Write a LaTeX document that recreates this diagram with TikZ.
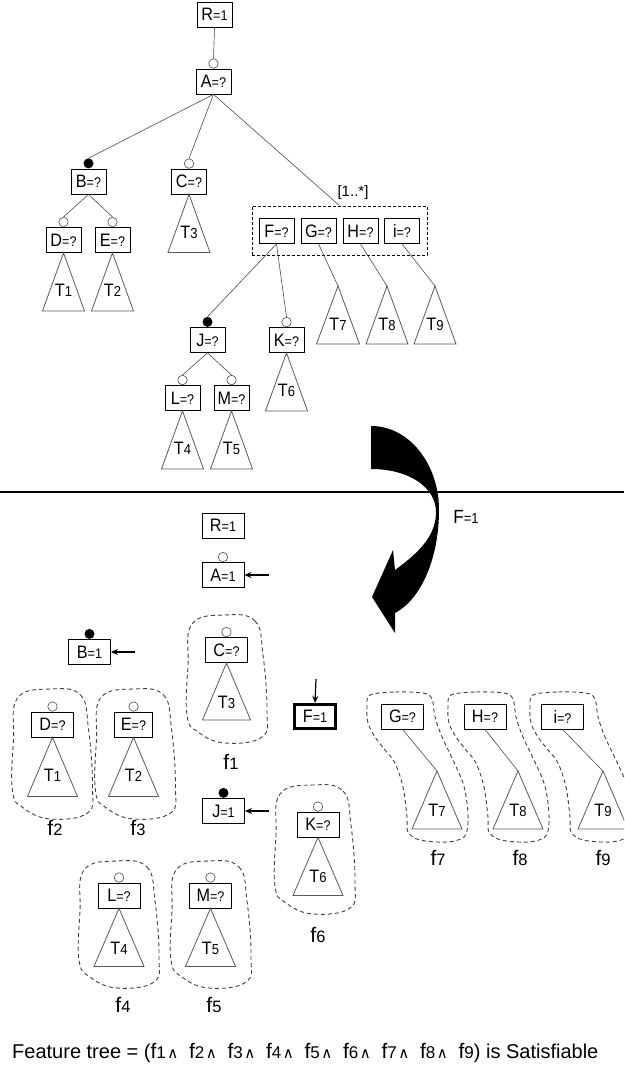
\documentclass[tikz,border=0pt]{standalone}
\usepackage{fontspec}
\setmainfont{Liberation Sans}
\newfontfamily\nfont{Liberation Sans}[FakeStretch=0.9]
\newfontfamily\symfont{DejaVu Sans}
\usetikzlibrary{arrows.meta}

% feature label inside a box: big letter, smaller "=value"
\newcommand{\boxtxt}[2]{{\nfont\fontsize{18}{18}\selectfont #1\fontsize{14}{14}\selectfont #2}}
% subtree label T<n>
\newcommand{\trilab}[1]{{\nfont\fontsize{18}{18}\selectfont T\fontsize{14.5}{14.5}\selectfont #1}}
% formula label f<n>
\newcommand{\flab}[1]{{\fontsize{21}{21}\selectfont f\fontsize{16.5}{16.5}\selectfont #1}}
\newcommand{\fsub}[1]{{\fontsize{21}{21}\selectfont f\fontsize{17}{17}\selectfont #1}}
\newcommand{\andsym}{{\symfont\fontsize{15}{15}\selectfont ∧}}
% one conjunct followed by its "and" sign, on a fixed pitch
\newcommand{\fand}[1]{\makebox[38.5pt][l]{\fsub{#1}\hspace{1.5pt}\andsym}}

% subtree triangle hanging from an apex, with its label
\newcommand{\subtree}[5]{%
  \draw[tri] (#1) -- ++(-#2,#3) -- ++(#2*2,0) -- cycle;
  \node[lab] at ([yshift=-#4pt]#1) {\trilab{#5}};}

% dashed outline around a box and its subtree (centre x, top y, bottom y)
\newcommand{\blob}[3]{%
  \draw[blobline] plot[smooth cycle, tension=0.7] coordinates {
    (#1-2,#2) (#1+28,#2+6) (#1+36,#2+40) (#1+40,#3-32) (#1+35,#3-6)
    (#1-2,#3) (#1-29,#3-11) (#1-40,#3-28) (#1-39,#2+50) (#1-35,#2+9)};}

% dashed outline around a group box with its offset subtree
\newcommand{\sblob}[1]{%
  \begin{scope}[xshift=#1pt]
  \draw[blobline] plot[smooth cycle, tension=0.55] coordinates {
    (370,695) (395,692) (423,693) (432,699) (435,717) (442,737) (453,760)
    (463,783) (467,803) (468,823) (464,837) (447,842) (420,840) (408,832)
    (407,817) (403,787) (395,763) (385,750) (375,737) (368,723) (367,707)};
  \end{scope}}

\begin{document}
\begin{tikzpicture}[x=1pt,y=-1pt,
  bx/.style={draw=black, line width=0.8pt, fill=white, minimum width=35pt,
    minimum height=25pt, inner sep=1pt},
  wbx/.style={bx, minimum width=42pt},
  oc/.style={circle, draw=black!70, line width=0.6pt, fill=white,
    minimum size=9.5pt, inner sep=0pt, anchor=south},
  fc/.style={circle, fill=black, minimum size=10pt, inner sep=0pt, anchor=south},
  link/.style={draw=black!70, line width=0.6pt},
  tri/.style={draw=black!65, line width=0.8pt},
  lab/.style={inner sep=0pt},
  blobline/.style={draw=black!75, line width=0.9pt, dash pattern=on 4pt off 3pt},
  ptr/.style={-{Stealth[length=7pt,width=6pt]}, line width=1.2pt},
]
\useasboundingbox (0,0) rectangle (624,1068);
\clip (0,0) rectangle (624,1068);

%% ---------------- upper tree ----------------
\node[bx] (R) at (214.5,14.5) {\boxtxt{R}{=1}};
\node[bx] (A) at (213.5,81.5) {\boxtxt{A}{=?}};
\node[oc] (Ac) at (A.north) {};
\draw[link] (R.south) -- (Ac.north);

\node[bx] (B) at (88.5,181.5) {\boxtxt{B}{=?}};
\node[fc] (Bc) at (B.north) {};
\node[bx] (C) at (189,181.5) {\boxtxt{C}{=?}};
\node[oc] (Cc) at (C.north) {};

\node[draw=black, line width=0.8pt, dash pattern=on 3pt off 2pt,
  minimum width=175pt, minimum height=49pt] (grp) at (339.5,230.5) {};
\node[lab] (card) at (353,193) {\fontsize{15}{15}\selectfont [1..*]};

\draw[link] (A.south) -- (Bc.north);
\draw[link] (A.south) -- (Cc.north);
\draw[link] (A.south) -- (grp.north);

\node[bx] (F) at (276.5,231) {\boxtxt{F}{=?}};
\node[bx] (G) at (318.5,231) {\boxtxt{G}{=?}};
\node[bx] (H) at (360.5,231) {\boxtxt{H}{=?}};
\node[bx] (I) at (402,231) {\boxtxt{i}{=?}};

\node[bx] (D) at (63.5,240) {\boxtxt{D}{=?}};
\node[oc] (Dc) at (D.north) {};
\node[bx] (E) at (112.5,240) {\boxtxt{E}{=?}};
\node[oc] (Ec) at (E.north) {};
\draw[link] (B.south) -- (Dc.north);
\draw[link] (B.south) -- (Ec.north);

\node[bx] (J) at (207.5,340) {\boxtxt{J}{=?}};
\node[fc] (Jc) at (J.north) {};
\node[bx] (K) at (286.5,340) {\boxtxt{K}{=?}};
\node[oc] (Kc) at (K.north) {};
\draw[link] (F.south) -- (Jc.north);
\draw[link] (F.south) -- (Kc.north);

\node[bx] (L) at (182.5,398) {\boxtxt{L}{=?}};
\node[oc] (Lc) at (L.north) {};
\node[bx] (M) at (231.5,398) {\boxtxt{M}{=?}};
\node[oc] (Mc) at (M.north) {};
\draw[link] (J.south) -- (Lc.north);
\draw[link] (J.south) -- (Mc.north);

\coordinate (t7) at (338,286);
\coordinate (t8) at (387,286);
\coordinate (t9) at (435,286);
\draw[link] (G.south) -- (t7);
\draw[link] (H.south) -- (t8);
\draw[link] (I.south) -- (t9);

\subtree{D.south}{21}{58}{37}{1}
\subtree{E.south}{21}{58}{37}{2}
\subtree{C.south}{21}{58}{38}{3}
\subtree{L.south}{21}{58}{37}{4}
\subtree{M.south}{21}{58}{37}{5}
\subtree{K.south}{21}{58}{37}{6}
\subtree{t7}{21.5}{58}{38}{7}
\subtree{t8}{21}{58}{38}{8}
\subtree{t9}{21}{58}{38}{9}

%% ---------------- divider and transition arrow ----------------
\coordinate (divl) at (0,492);
\coordinate (divr) at (624,492);
\draw[line width=1.3pt] (divl) -- (divr);

\fill[black] (371,426) .. controls (410,426) and (439,465) .. (439,510)
  .. controls (439,560) and (420,600) .. (395,613)
  -- (395,633) -- (372,597) -- (393,550) -- (395,570)
  .. controls (420,552) and (436,535) .. (436,512)
  .. controls (436,488) and (410,469) .. (371,469) -- cycle;
\node[lab] (fset) at (466,517) {{\nfont\fontsize{19}{19}\selectfont F\fontsize{14.5}{14.5}\selectfont =1}};

%% ---------------- lower part: decomposition ----------------
\blob{227}{615}{743}
\blob{52.5}{689}{819}
\blob{135.5}{689}{819}
\blob{315}{785}{914}
\blob{119}{861}{988}
\blob{211}{861}{988}
\sblob{0}
\sblob{81}
\sblob{163}

\node[wbx] (R2) at (223,525.5) {\boxtxt{R}{=1}};
\node[wbx] (A2) at (223,575) {\boxtxt{A}{=1}};
\node[oc] (A2c) at (A2.north) {};
\coordinate (pA) at (269,575);
\draw[ptr] (pA) -- (A2.east);

\node[wbx] (B2) at (89.5,652) {\boxtxt{B}{=1}};
\node[fc] (B2c) at (B2.north) {};
\coordinate (pB) at (135,652);
\draw[ptr] (pB) -- (B2.east);

\node[wbx] (C2) at (226.5,650) {\boxtxt{C}{=?}};
\node[oc] (C2c) at (C2.north) {};

\node[bx, line width=2.6pt, minimum width=41.5pt, minimum height=24.5pt]
  (F2) at (315,716.5) {\boxtxt{F}{=1}};
\coordinate (pF) at (316,679);
\draw[ptr] (pF) -- (F2.north);

\node[wbx] (J2) at (223.5,811) {\boxtxt{J}{=1}};
\node[fc] (J2c) at (J2.north) {};
\coordinate (pJ) at (269,811);
\draw[ptr] (pJ) -- (J2.east);

\node[wbx] (D2) at (52.5,724.5) {\boxtxt{D}{=?}};
\node[oc] (D2c) at (D2.north) {};
\node[wbx, minimum width=38pt] (E2) at (133.5,724.5) {\boxtxt{E}{=?}};
\node[oc] (E2c) at (E2.north) {};
\node[wbx] (K2) at (318,824.5) {\boxtxt{K}{=?}};
\node[oc] (K2c) at (K2.north) {};
\node[wbx] (L2) at (119,895.5) {\boxtxt{L}{=?}};
\node[oc] (L2c) at (L2.north) {};
\node[wbx] (M2) at (210.5,895.5) {\boxtxt{M}{=?}};
\node[oc] (M2c) at (M2.north) {};

\node[wbx] (G2) at (402.5,716.5) {\boxtxt{G}{=?}};
\node[wbx] (H2) at (485,716.5) {\boxtxt{H}{=?}};
\node[wbx] (I2) at (562.5,716.5) {\boxtxt{i}{=?}};
\coordinate (b7) at (437,771);
\coordinate (b8) at (518,771);
\coordinate (b9) at (603,771);
\draw[link] (G2.south) -- (b7);
\draw[link] (H2.south) -- (b8);
\draw[link] (I2.south) -- (b9);

\subtree{C2.south}{24}{57}{39}{3}
\subtree{D2.south}{25}{59}{38}{1}
\subtree{E2.south}{25}{59}{38}{2}
\subtree{K2.south}{25}{58}{39}{6}
\subtree{L2.south}{25}{58}{40}{4}
\subtree{M2.south}{25}{58}{40}{5}
\subtree{b7}{25}{58}{39}{7}
\subtree{b8}{25}{58}{39}{8}
\subtree{b9}{25}{58}{39}{9}

\node[lab] (f1) at (231,762) {\flab{1}};
\node[lab] (f2) at (55,828) {\flab{2}};
\node[lab] (f3) at (138,828) {\flab{3}};
\node[lab] (f4) at (123,1005) {\flab{4}};
\node[lab] (f5) at (214,1005) {\flab{5}};
\node[lab] (f6) at (318,935) {\flab{6}};
\node[lab] (f7) at (438,858) {\flab{7}};
\node[lab] (f8) at (520,858) {\flab{8}};
\node[lab] (f9) at (603,858) {\flab{9}};

\node[lab, anchor=base west] (formula) at (12,1058) {\fontsize{20}{20}\selectfont
  Feature tree = (\fand{1}\fand{2}\fand{3}\fand{4}\fand{5}\fand{6}\fand{7}\fand{8}\fsub{9}) is Satisfiable};
\end{tikzpicture}
\end{document}
